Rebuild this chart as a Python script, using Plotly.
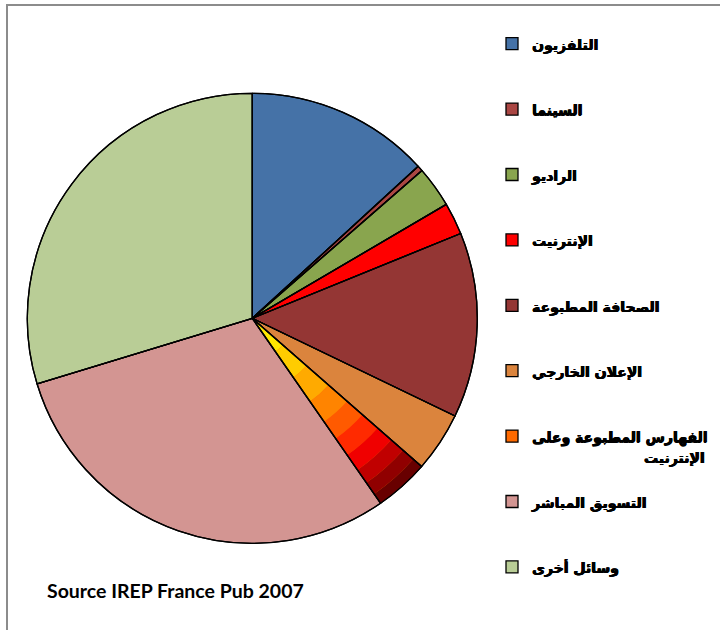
import plotly.graph_objects as go

# ---- data ----
labels = ["التلفزيون", "السينما", "الراديو", "الإنترنيت", "الصحافة المطبوعة",
          "الإعلان الخارجي", "الفهارس المطبوعة وعلى الإنترنيت", "التسويق المباشر", "وسائل أخرى"]
values = [13.2, 0.4, 2.95, 2.3, 13.3, 4.3, 3.9, 29.95, 29.7]
colors = ["#4572A7", "#AA4643", "#89A54E", "#FF0000", "#943634",
          "#DB843D", "#FF6A00", "#D39592", "#B9CD96"]
source_text = "Source IREP France Pub 2007"

# radial gradient bands for the catalogue slice (fraction of radius, colour)
band_stops = [0.18, 0.32, 0.45, 0.56, 0.65, 0.74, 0.82, 0.89, 0.95, 1.0]
band_cols = ["#FFE800", "#FFCC00", "#FFAA00", "#FF8400", "#FF5A00",
             "#FF2A00", "#F00000", "#C00000", "#900000", "#680000"]
GRAD_IDX = 6

W, H = 720, 630
CX, CY, R = 252.3, 318.3, 225.0


def domain_for(r):
    return dict(x=[(CX - r) / W, (CX + r) / W],
                y=[(H - CY - r) / H, (H - CY + r) / H])


SPAN = "<span style='font-size:14px'><b>%s</b></span>"


def legend_label(i, lab):
    if i == GRAD_IDX:
        l1 = "الفهارس المطبوعة وعلى"
        l2 = "الإنترنيت"
        return "\u00a0<br>" + SPAN % l1 + "<br>" + "\u00a0" * 22 + SPAN % l2
    return "\u00a0<br>" + SPAN % lab + "<br>\u00a0"


leg_labels = [legend_label(i, l) for i, l in enumerate(labels)]

fig = go.Figure()

# main pie
fig.add_trace(go.Pie(
    labels=leg_labels, values=values, sort=False, direction="clockwise", rotation=0,
    marker=dict(colors=colors, line=dict(color="black", width=1.3)),
    textinfo="none", hoverinfo="label+percent", domain=domain_for(R), showlegend=True,
))

# gradient bands
prev = 0.0
for f, c in zip(band_stops, band_cols):
    r = R * f
    cols = ["rgba(0,0,0,0)"] * len(values)
    cols[GRAD_IDX] = c
    fig.add_trace(go.Pie(
        labels=leg_labels, values=values, sort=False, direction="clockwise", rotation=0,
        marker=dict(colors=cols, line=dict(width=0)), hole=prev / f if f > 0 else 0,
        textinfo="none", hoverinfo="skip", domain=domain_for(r), showlegend=False,
    ))
    prev = f

# outline on top
fig.add_trace(go.Pie(
    labels=leg_labels, values=values, sort=False, direction="clockwise", rotation=0,
    marker=dict(colors=["rgba(0,0,0,0)"] * len(values), line=dict(color="black", width=1.3)),
    textinfo="none", hoverinfo="skip", domain=domain_for(R), showlegend=False,
))

fig.update_layout(
    width=W, height=H, margin=dict(l=0, r=0, t=0, b=0),
    paper_bgcolor="white", plot_bgcolor="white",
    font=dict(family="'DejaVu Sans', sans-serif", color="black"),
    legend=dict(x=492 / W, xanchor="left", y=1 - 6 / H, yanchor="top",
                font=dict(size=16, color="black", family="'DejaVu Sans', sans-serif",
                          shadow="0.6px 0 0 #000, -0.3px 0 0 #000, 0 0.3px 0 #000"),
                bgcolor="rgba(0,0,0,0)", traceorder="normal"),
    annotations=[dict(text="<b>%s</b>" % source_text, xref="paper", yref="paper",
                      x=45 / W, y=1 - 590 / H, xanchor="left", yanchor="middle",
                      showarrow=False,
                      font=dict(size=19.5, family="Lato, 'Open Sans', sans-serif", color="black"))],
    shapes=[dict(type="rect", xref="paper", yref="paper",
                 x0=7 / W, x1=1.05, y0=-0.05, y1=1 - 5 / H,
                 line=dict(color="#8C8C8C", width=2), fillcolor="rgba(0,0,0,0)", layer="below")],
)

fig.write_html("out.html")
